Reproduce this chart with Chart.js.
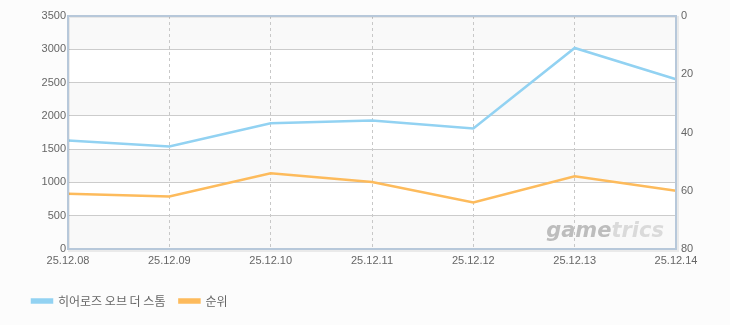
<!DOCTYPE html>
<html>
<head>
<meta charset="utf-8">
<script src="https://cdn.jsdelivr.net/npm/chart.js@4/dist/chart.umd.min.js"></script>
<style>
  html, body { margin: 0; padding: 0; background: #fcfcfc; }
  #wrap { width: 730px; height: 325px; }
</style>
</head>
<body>
<div id="wrap"><canvas id="myChart" width="730" height="325"></canvas></div>
<script>
// data
var dates = ['25.12.08', '25.12.09', '25.12.10', '25.12.11', '25.12.12', '25.12.13', '25.12.14'];
var users = [1630, 1540, 1890, 1930, 1810, 3020, 2550];
var ranks = [61, 62, 54, 57, 64, 55, 60];
var userTicks = [0, 500, 1000, 1500, 2000, 2500, 3000, 3500];
var rankTicks = [0, 20, 40, 60, 80];

var tickFont = { family: '"Liberation Sans", Arial, sans-serif', size: 11 };

//background bands, frame and watermark
var plotDecor = {
    id: 'plotDecor',
    beforeDraw: function(chart) {
        var ctx = chart.ctx;
        var a = chart.chartArea;
        var y = chart.scales.y;
        ctx.save();
        ctx.fillStyle = '#ffffff';
        ctx.fillRect(a.left, a.top, a.right - a.left, a.bottom - a.top);
        ctx.fillStyle = '#f9f9f9';
        for (var i = 0; i < userTicks.length - 1; i++) {
            if (i % 2 == 0) {
                var y1 = y.getPixelForValue(userTicks[i]);
                var y2 = y.getPixelForValue(userTicks[i + 1]);
                ctx.fillRect(a.left, y2, a.right - a.left, y1 - y2);
            }
        }
        ctx.restore();
    },
    afterDatasetsDraw: function(chart) {
        var ctx = chart.ctx;
        var a = chart.chartArea;
        ctx.save();
        ctx.font = 'italic bold 21px "DejaVu Sans", sans-serif';
        ctx.textBaseline = 'alphabetic';
        ctx.textAlign = 'left';
        var w1 = ctx.measureText('game').width;
        var w2 = ctx.measureText('trics').width;
        var x0 = a.right - 12 - w1 - w2;
        ctx.fillStyle = '#bdbdbd';
        ctx.fillText('game', x0, a.bottom - 12);
        ctx.fillStyle = '#dadada';
        ctx.fillText('trics', x0 + w1, a.bottom - 12);
        ctx.restore();
    },
    afterDraw: function(chart) {
        var ctx = chart.ctx;
        var a = chart.chartArea;
        ctx.save();
        ctx.strokeStyle = 'rgba(0,0,0,0.07)';
        ctx.lineWidth = 2;
        ctx.strokeRect(a.left + 1, a.top + 1, a.right - a.left + 1, a.bottom - a.top + 1);
        ctx.strokeStyle = '#b7c8da';
        ctx.lineWidth = 2;
        ctx.strokeRect(a.left, a.top, a.right - a.left, a.bottom - a.top);
        ctx.restore();
    }
};

var ctx = document.getElementById('myChart').getContext('2d');
var myChart = new Chart(ctx, {
    type: 'line',
    data: {
        labels: dates,
        datasets: [{
            label: '히어로즈 오브 더 스톰',
            data: users,
            yAxisID: 'y',
            borderColor: '#92d2f2',
            backgroundColor: '#92d2f2',
            borderWidth: 2.5,
            pointRadius: 0,
            tension: 0
        }, {
            label: '순위',
            data: ranks,
            yAxisID: 'y1',
            borderColor: '#fdbb5c',
            backgroundColor: '#fdbb5c',
            borderWidth: 2.5,
            pointRadius: 0,
            tension: 0
        }]
    },
    options: {
        responsive: false,
        animation: false,
        layout: { padding: { left: 18, right: 0, top: 16, bottom: 8 } },
        plugins: {
            tooltip: { enabled: false },
            legend: {
                position: 'bottom',
                align: 'start',
                labels: {
                    boxWidth: 20,
                    boxHeight: 3,
                    padding: 14,
                    color: '#666',
                    font: { family: '"Noto Sans CJK KR", sans-serif', size: 12 }
                }
            }
        },
        scales: {
            x: {
                offset: false,
                afterFit: function(axis) { axis.height = 32; },
                grid: {
                    color: '#c8c8c8',
                    lineWidth: 1,
                    drawTicks: false
                },
                border: { display: false, dash: [3, 3] },
                ticks: {
                    color: '#666',
                    font: tickFont,
                    padding: 5,
                    maxRotation: 0,
                    autoSkip: false
                }
            },
            y: {
                position: 'left',
                min: 0,
                max: 3500,
                afterBuildTicks: function(axis) {
                    axis.ticks = userTicks.map(function(v) { return { value: v }; });
                },
                afterFit: function(axis) { axis.width = 50; },
                grid: { color: '#cccccc', drawTicks: false },
                border: { display: false },
                ticks: {
                    color: '#666',
                    font: tickFont,
                    padding: 2,
                    callback: function(v) { return String(v); }
                }
            },
            y1: {
                position: 'right',
                reverse: true,
                min: 0,
                max: 80,
                afterBuildTicks: function(axis) {
                    axis.ticks = rankTicks.map(function(v) { return { value: v }; });
                },
                afterFit: function(axis) { axis.width = 54; },
                grid: { drawOnChartArea: false, drawTicks: false },
                border: { display: false },
                ticks: { color: '#666', font: tickFont, padding: 5 }
            }
        }
    },
    plugins: [plotDecor]
});
</script>
</body>
</html>
